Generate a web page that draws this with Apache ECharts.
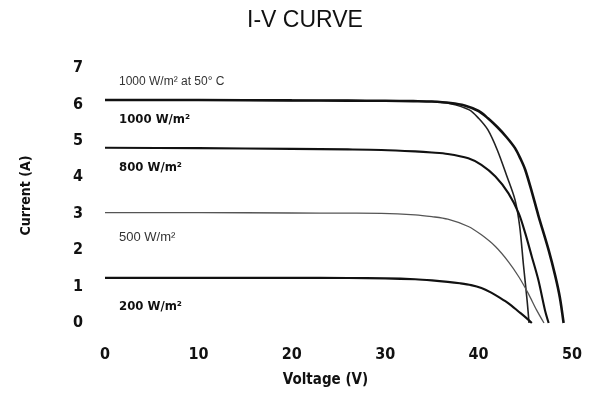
<!DOCTYPE html>
<html>
<head>
<meta charset="utf-8">
<script src="https://cdn.jsdelivr.net/npm/echarts@6/dist/echarts.min.js"></script>
<style>html,body{margin:0;padding:0;background:#fff}#c{width:592px;height:400px}</style>
</head>
<body>
<div id="c"></div>
<script>
const titleText = 'I-V CURVE';
const xTicks = [0, 10, 20, 30, 40, 50];
const yTicks = [0, 1, 2, 3, 4, 5, 6, 7];
const seriesNames = ['1000 W/m² at 50° C', '1000 W/m²', '800 W/m²', '500 W/m²', '200 W/m²'];

const curve1000at50 = [[0,6.12],[10,6.12],[20,6.11],[26,6.105],[30,6.1],[33,6.09],[35,6.08],[37,6.02],[39,5.85],[40,5.62],[41,5.3],[42,4.75],[43,4.05],[43.9,3.38],[44.4,2.65],[44.8,1.6],[45.2,0.6],[45.4,0]];
const curve1000 = [[0,6.12],[10,6.12],[20,6.11],[26,6.105],[30,6.1],[33,6.09],[35,6.08],[37,6.04],[38.5,5.97],[40,5.82],[41,5.62],[42,5.38],[43,5.1],[43.9,4.8],[44.5,4.5],[45,4.2],[45.7,3.6],[46.4,2.95],[47.5,2.0],[48.2,1.3],[48.7,0.7],[49.1,0]];
const curve800 = [[0,4.81],[10,4.8],[20,4.78],[26,4.765],[29.6,4.75],[33.2,4.71],[35,4.68],[36.7,4.64],[38.9,4.52],[40.3,4.34],[41.8,4.02],[43.2,3.56],[44.3,3.01],[45,2.46],[45.7,1.82],[46.4,1.18],[47.1,0.36],[47.5,0]];
const curve500 = [[0,3.03],[10,3.03],[20,3.02],[26,3.015],[29.6,3.01],[33.2,2.97],[35,2.92],[36.7,2.85],[38.9,2.65],[40.3,2.42],[41.8,2.1],[43.2,1.68],[44.3,1.27],[45.3,0.82],[46.2,0.36],[47,0]];
const curve200 = [[0,1.24],[10,1.24],[20,1.24],[26,1.235],[30,1.225],[33.2,1.2],[35,1.17],[36.7,1.13],[38,1.09],[39.2,1.04],[40.3,0.96],[41.3,0.84],[42.3,0.69],[43.2,0.54],[44.3,0.31],[45.1,0.14],[45.7,0]];

const chart = echarts.init(document.getElementById('c'), null, {renderer: 'canvas'});
const FONT = 'DejaVu Sans Condensed, DejaVu Sans, sans-serif';

function mkSeries(name, data, color, width, labelY, labelStyle) {
  return {
    name: name,
    type: 'line',
    data: data,
    smooth: 0.3,
    symbol: 'none',
    lineStyle: {color: color, width: width},
    z: 3,
    markPoint: {
      symbol: 'circle',
      symbolSize: 0,
      silent: true,
      label: Object.assign({
        show: true,
        position: 'right',
        distance: 0,
        formatter: name,
        fontFamily: FONT,
        fontSize: 13,
        color: '#111'
      }, labelStyle),
      data: [{coord: [1.5, labelY]}]
    }
  };
}

chart.setOption({
  animation: false,
  backgroundColor: '#fff',
  title: {
    text: titleText,
    left: 242,
    top: 4,
    textStyle: {fontFamily: 'Liberation Sans, sans-serif', fontSize: 23, fontWeight: 'normal', color: '#111'}
  },
  grid: {left: 105, right: 20, top: 68, bottom: 77, containLabel: false},
  xAxis: {
    type: 'value',
    min: 0, max: 50, interval: 10,
    name: 'Voltage (V)',
    nameLocation: 'middle',
    nameGap: 50,
    nameTextStyle: {fontFamily: FONT, fontSize: 15, fontWeight: 'bold', color: '#111', padding: [0, 26, 0, 0]},
    axisLine: {show: false},
    axisTick: {show: false},
    splitLine: {show: false},
    axisLabel: {
      margin: 24,
      fontFamily: FONT, fontSize: 16, fontWeight: 'bold', color: '#111',
      formatter: v => xTicks.includes(v) ? String(v) : ''
    }
  },
  yAxis: {
    type: 'value',
    min: 0, max: 7, interval: 1,
    name: 'Current (A)',
    nameLocation: 'middle',
    nameGap: 72,
    nameTextStyle: {fontFamily: FONT, fontSize: 14, fontWeight: 'bold', color: '#111'},
    axisLine: {show: false},
    axisTick: {show: false},
    splitLine: {show: false},
    axisLabel: {
      margin: 22,
      fontFamily: FONT, fontSize: 16, fontWeight: 'bold', color: '#111',
      formatter: v => yTicks.includes(v) ? String(v) : ''
    }
  },
  series: [
    mkSeries(seriesNames[0], curve1000at50, '#222', 1.6, 6.62, {fontWeight: 'normal', color: '#333', fontFamily: 'Liberation Sans, sans-serif', fontSize: 12}),
    mkSeries(seriesNames[1], curve1000, '#111', 2.6, 5.58, {fontWeight: 'bold'}),
    mkSeries(seriesNames[2], curve800, '#111', 2.1, 4.26, {fontWeight: 'bold'}),
    mkSeries(seriesNames[3], curve500, '#555', 1.3, 2.36, {fontWeight: 'normal', color: '#333', fontFamily: 'Liberation Sans, sans-serif'}),
    mkSeries(seriesNames[4], curve200, '#111', 2.1, 0.44, {fontWeight: 'bold'})
  ]
});
</script>
</body>
</html>
